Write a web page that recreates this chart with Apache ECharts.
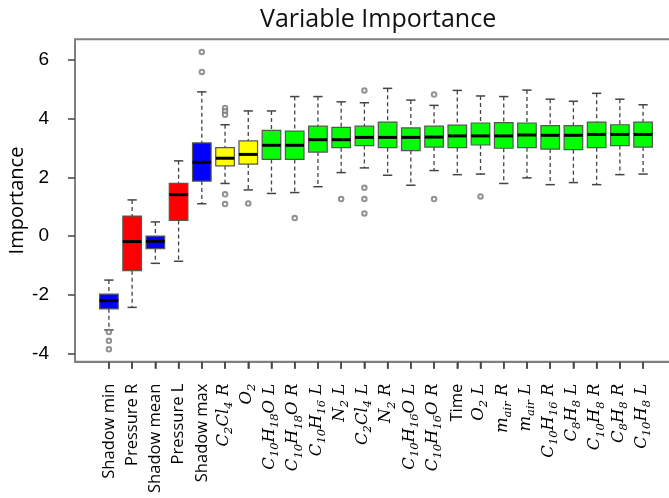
<!DOCTYPE html>
<html>
<head>
<meta charset="utf-8">
<script src="https://cdn.jsdelivr.net/npm/echarts@6/dist/echarts.min.js"></script>
<style>
  html, body { margin: 0; padding: 0; background: #fff; }
  #chart { width: 669px; height: 498px; }
</style>
</head>
<body>
<div id="chart"></div>
<script>
// categories, subscripts written as _{..}
var categories = ['Shadow min', 'Pressure R', 'Shadow mean', 'Pressure L', 'Shadow max',
  'C_{2}Cl_{4} R', 'O_{2}', 'C_{10}H_{18}O L', 'C_{10}H_{18}O R', 'C_{10}H_{16} L', 'N_{2} L',
  'C_{2}Cl_{4} L', 'N_{2} R', 'C_{10}H_{16}O L', 'C_{10}H_{16}O R', 'Time', 'O_{2} L',
  'm_{air} R', 'm_{air} L', 'C_{10}H_{16} R', 'C_{8}H_{8} L', 'C_{10}H_{8} R', 'C_{8}H_{8} R', 'C_{10}H_{8} L'];
var lowWhisker = [-3.20, -2.43, -0.93, -0.86, 1.10, 1.79, 1.57, 1.45, 1.48, 1.68, 2.16, 2.32,
  2.07, 1.73, 2.23, 2.09, 2.11, 1.79, 1.98, 1.75, 1.82, 1.75, 2.09, 2.11];
var q1 = [-2.48, -1.18, -0.43, 0.53, 1.87, 2.39, 2.45, 2.61, 2.61, 2.86, 3.01, 3.08,
  3.01, 2.91, 3.03, 3.01, 3.10, 2.99, 3.01, 2.96, 2.94, 3.01, 3.08, 3.03];
var median = [-2.20, -0.19, -0.18, 1.41, 2.51, 2.65, 2.78, 3.09, 3.09, 3.28, 3.28, 3.36,
  3.36, 3.36, 3.37, 3.41, 3.41, 3.41, 3.44, 3.43, 3.43, 3.46, 3.46, 3.46];
var q3 = [-1.98, 0.68, 0.00, 1.79, 3.17, 3.01, 3.24, 3.60, 3.57, 3.74, 3.70, 3.74,
  3.88, 3.68, 3.74, 3.78, 3.85, 3.86, 3.85, 3.76, 3.76, 3.88, 3.79, 3.88];
var highWhisker = [-1.50, 1.23, 0.48, 2.56, 4.91, 3.79, 4.26, 4.26, 4.75, 4.75, 4.57, 4.54,
  5.03, 4.63, 4.45, 4.96, 4.77, 4.75, 4.97, 4.66, 4.59, 4.86, 4.66, 4.47];
var boxColors = ['#0000ff', '#ff0000', '#0000ff', '#ff0000', '#0000ff', '#ffff00', '#ffff00',
  '#00ff00', '#00ff00', '#00ff00', '#00ff00', '#00ff00', '#00ff00', '#00ff00', '#00ff00',
  '#00ff00', '#00ff00', '#00ff00', '#00ff00', '#00ff00', '#00ff00', '#00ff00', '#00ff00', '#00ff00'];
var outlierCat = [0, 0, 0, 4, 4, 5, 5, 5, 5, 5, 6, 8, 10, 11, 11, 11, 11, 14, 14, 16];
var outlierVal = [-3.27, -3.57, -3.86, 6.27, 5.59, 4.36, 4.25, 4.13, 1.42, 1.09, 1.11, 0.61,
  1.26, 4.96, 1.64, 1.26, 0.77, 4.82, 1.26, 1.35];
var yTicks = [-4, -2, 0, 2, 4, 6];
var yMin = -4.28, yMax = 6.70;

var chart = echarts.init(document.getElementById('chart'));

// boxes sit at positions 1..n like in R, axis padded by 4%
var xPos = categories.map(function (c, i) { return i + 1; });
var xPad = categories.length * 0.04 + 0.5;
var boxData = categories.map(function (c, i) {
  return [xPos[i], lowWhisker[i], q1[i], median[i], q3[i], highWhisker[i]];
});
var outlierData = outlierCat.map(function (c, i) { return [xPos[c], outlierVal[i]]; });

// turn 'C_{10}H_{18}O L' into rich text pieces
function richLabel(name) {
  if (name.indexOf('_') < 0) return '{t|' + name + '}';
  var parts = name.split(/_\{([^}]*)\}/);
  var out = '';
  parts.forEach(function (p, k) {
    if (!p) return;
    out += (k % 2 ? '{s|' : '{m|') + p + '}';
  });
  return out;
}

function renderBox(params, api) {
  var x = api.value(0);
  var unit = api.size([1, 0])[0];
  var bw = unit * 0.8, cw = bw * 0.5;
  var pLow = api.coord([x, api.value(1)]);
  var pQ1 = api.coord([x, api.value(2)]);
  var pMed = api.coord([x, api.value(3)]);
  var pQ3 = api.coord([x, api.value(4)]);
  var pHigh = api.coord([x, api.value(5)]);
  var pBase = api.coord([x, yMin]);
  var cx = pMed[0];
  var dash = { stroke: '#444', lineWidth: 1.3, lineDash: [4, 3] };
  var cap = { stroke: '#444', lineWidth: 1.5 };
  return {
    type: 'group',
    children: [
      // tick under the box, below the frame
      { type: 'line', shape: { x1: cx, y1: pBase[1] + 1, x2: cx, y2: pBase[1] + 7 }, style: cap },
      { type: 'line', shape: { x1: cx, y1: pHigh[1], x2: cx, y2: pQ3[1] }, style: dash },
      { type: 'line', shape: { x1: cx, y1: pQ1[1], x2: cx, y2: pLow[1] }, style: dash },
      { type: 'line', shape: { x1: cx - cw / 2, y1: pHigh[1], x2: cx + cw / 2, y2: pHigh[1] }, style: cap },
      { type: 'line', shape: { x1: cx - cw / 2, y1: pLow[1], x2: cx + cw / 2, y2: pLow[1] }, style: cap },
      { type: 'rect', shape: { x: cx - bw / 2, y: pQ3[1], width: bw, height: pQ1[1] - pQ3[1] },
        style: { fill: boxColors[params.dataIndex], stroke: '#555', lineWidth: 1.2 } },
      { type: 'line', shape: { x1: cx - bw / 2, y1: pMed[1], x2: cx + bw / 2, y2: pMed[1] },
        style: { stroke: '#000', lineWidth: 3 } }
    ]
  };
}

var option = {
  backgroundColor: '#fff',
  animation: false,
  title: {
    text: 'Variable Importance',
    left: 255,
    top: 2,
    textStyle: { fontFamily: 'Open Sans', fontSize: 25, fontWeight: 'normal', color: '#111' }
  },
  grid: {
    left: 75, top: 39.3, width: 602, height: 322.4, show: true,
    borderColor: '#7f7f7f', borderWidth: 2, outerBoundsMode: 'none'
  },
  xAxis: {
    type: 'value', min: 1 - xPad, max: categories.length + xPad,
    axisLine: { show: true, onZero: false, lineStyle: { color: '#7f7f7f', width: 2 } },
    axisTick: { show: true, customValues: xPos, length: 7, lineStyle: { color: '#444', width: 1.5 } },
    axisLabel: {
      customValues: xPos, rotate: 90, margin: 22, color: '#000',
      formatter: function (v) { return richLabel(categories[Math.round(v) - 1]); },
      rich: {
        t: { fontFamily: 'Open Sans', fontSize: 16.5, color: '#000' },
        m: { fontFamily: 'DejaVu Serif', fontStyle: 'italic', fontSize: 16.5, lineHeight: 20,
          verticalAlign: 'top', color: '#000' },
        s: { fontFamily: 'DejaVu Serif', fontStyle: 'italic', fontSize: 11.5, lineHeight: 10,
          verticalAlign: 'bottom', color: '#000' }
      }
    },
    splitLine: { show: false }
  },
  yAxis: {
    type: 'value', min: yMin, max: yMax,
    name: 'Importance', nameLocation: 'middle', nameGap: 48, nameMoveOverlap: false,
    nameTextStyle: { fontFamily: 'Open Sans', fontSize: 20, color: '#000' },
    axisLine: { show: false, onZero: false },
    axisTick: { show: true, customValues: yTicks, length: 7, lineStyle: { color: '#444', width: 1.5 } },
    axisLabel: { customValues: yTicks, margin: 26, fontFamily: 'Liberation Sans', fontSize: 19, color: '#000' },
    splitLine: { show: false }
  },
  series: [
    {
      type: 'custom',
      clip: false,
      renderItem: renderBox,
      encode: { x: 0, y: [1, 2, 3, 4, 5] },
      data: boxData
    },
    {
      type: 'scatter',
      symbol: 'emptyCircle', symbolSize: 4.5,
      itemStyle: { color: '#777', borderWidth: 1 },
      data: outlierData
    }
  ]
};

chart.setOption(option);
</script>
</body>
</html>
